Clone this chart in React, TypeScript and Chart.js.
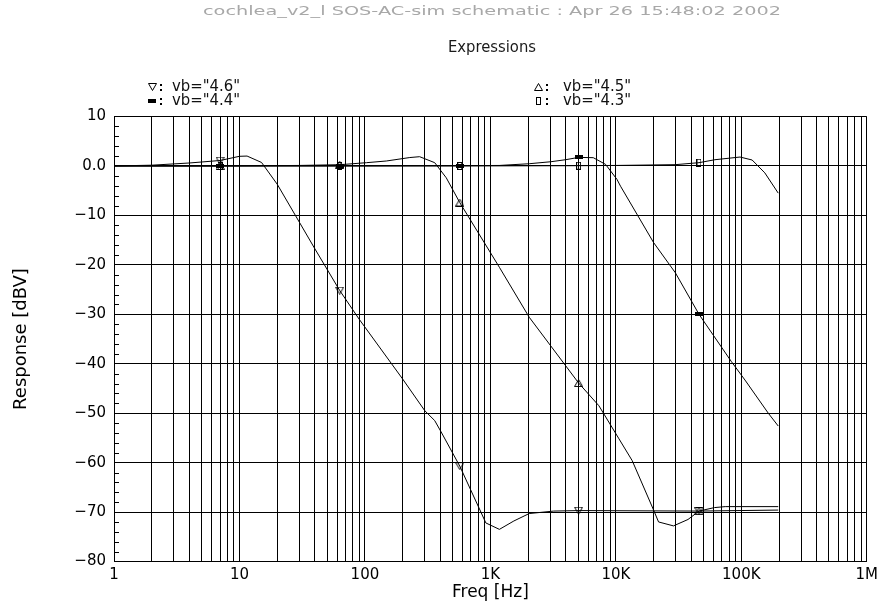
import React, { useEffect, useRef } from 'react';
import { Chart, registerables } from 'chart.js';

Chart.register(...registerables);

const TITLE = 'cochlea_v2_l SOS-AC-sim schematic : Apr 26 15:48:02 2002';
const SUBTITLE = 'Expressions';
const X_TITLE = 'Freq [Hz]';
const Y_TITLE = 'Response [dBV]';

const seriesLabels = ['vb="4.6"', 'vb="4.5"', 'vb="4.4"', 'vb="4.3"'];

// vb = 4.6
const freq46 = [1, 2, 4, 7, 10, 11.5, 15, 20, 40, 63, 90, 200, 300, 360, 405, 570, 840, 920, 1180, 1540, 2040, 3200, 5050, 46000, 197000];
const resp46 = [0.0, 0.15, 0.6, 1.1, 1.95, 2.0, 0.7, -3.7, -16.8, -25.2, -31.0, -43.1, -49.5, -51.5, -53.8, -60.7, -70.0, -72.2, -73.5, -71.8, -70.3, -69.8, -69.7, -69.8, -69.6];

// vb = 4.5
const freq45 = [1, 7, 30, 63, 103, 148, 228, 273, 360, 445, 570, 1180, 2040, 5050, 7330, 10600, 13500, 20000, 21900, 28800, 37600, 46000, 61000, 74500, 197000];
const resp45 = [0.0, 0.0, 0.1, 0.25, 0.66, 1.0, 1.7, 1.87, 0.66, -2.4, -7.4, -20.5, -30.6, -43.9, -48.5, -55.2, -59.6, -69.6, -72.0, -72.8, -71.5, -69.8, -69.1, -68.9, -68.9];

// vb = 4.4
const freq44 = [1, 7, 63, 570, 1180, 2040, 3030, 3980, 5050, 6610, 8280, 10200, 10900, 20000, 29800, 46000, 83000, 107000, 164000, 197000];
const resp44 = [0.0, 0.0, 0.0, 0.05, 0.1, 0.45, 0.85, 1.26, 1.73, 1.67, 0.32, -2.7, -4.1, -15.5, -21.6, -30.0, -39.5, -43.3, -50.0, -52.6];

// vb = 4.3
const freq43 = [1, 7, 63, 570, 5050, 10000, 29800, 46000, 61700, 97700, 122000, 154000, 197000];
const resp43 = [0.0, 0.0, 0.0, 0.0, 0.05, 0.1, 0.26, 0.66, 1.26, 1.8, 1.2, -1.4, -5.5];

const markerFreqs = [7, 63, 570, 5050, 46000];

const decadeValues = [1, 10, 100, 1000, 10000, 100000, 1000000];
const decadeLabels = ['1', '10', '100', '1K', '10K', '100K', '1M'];
const yTickValues = [10, 0, -10, -20, -30, -40, -50, -60, -70, -80];
const yTickLabels = ['10', '0.0', '\u221210', '\u221220', '\u221230', '\u221240', '\u221250', '\u221260', '\u221270', '\u221280'];

function makeMarker(kind: string): HTMLCanvasElement {
  const c = document.createElement('canvas');
  const ctx = c.getContext('2d')!;
  if (kind === 'down') {
    c.width = 9; c.height = 8;
    ctx.strokeStyle = '#000'; ctx.lineWidth = 1;
    ctx.beginPath(); ctx.moveTo(0.5, 0.5); ctx.lineTo(8.5, 0.5); ctx.lineTo(4.5, 7.5); ctx.closePath(); ctx.stroke();
  } else if (kind === 'up') {
    c.width = 9; c.height = 8;
    ctx.strokeStyle = '#000'; ctx.lineWidth = 1;
    ctx.beginPath(); ctx.moveTo(0.5, 7.5); ctx.lineTo(8.5, 7.5); ctx.lineTo(4.5, 0.5); ctx.closePath(); ctx.stroke();
  } else if (kind === 'bar') {
    c.width = 8; c.height = 4;
    ctx.fillStyle = '#000';
    ctx.fillRect(0, 0, 8, 4);
  } else {
    c.width = 5; c.height = 8;
    ctx.strokeStyle = '#000'; ctx.lineWidth = 1;
    ctx.strokeRect(0.5, 0.5, 4, 7);
  }
  return c;
}

function drawStretched(ctx: CanvasRenderingContext2D, text: string, x: number, y: number, font: string, color: string, width: number, align: string) {
  ctx.save();
  ctx.font = font;
  ctx.fillStyle = color;
  ctx.textBaseline = 'middle';
  ctx.textAlign = 'left';
  const w = ctx.measureText(text).width;
  const s = width / w;
  const left = align === 'center' ? x - width / 2 : x;
  ctx.translate(left, y);
  ctx.scale(s, 1);
  ctx.fillText(text, 0, 0);
  ctx.restore();
}

export default function App() {
  const ref = useRef<HTMLCanvasElement>(null);

  useEffect(() => {
    const canvas = ref.current!;
    const markers = [makeMarker('down'), makeMarker('up'), makeMarker('bar'), makeMarker('box')];
    const freqs = [freq46, freq45, freq44, freq43];
    const resps = [resp46, resp45, resp44, resp43];

    const xGrid: number[] = [];
    decadeValues.forEach((d, i) => {
      if (i === decadeValues.length - 1) { xGrid.push(d); return; }
      for (let m = 1; m <= 9; m++) xGrid.push(m * d);
    });
    const labelOf = new Map<number, string>();
    decadeValues.forEach((d, i) => labelOf.set(d, decadeLabels[i]));
    const yLabelOf = new Map<number, string>();
    yTickValues.forEach((v, i) => yLabelOf.set(v, yTickLabels[i]));

    const datasets = freqs.map((fs, si) => ({
      label: seriesLabels[si],
      data: fs.map((f, i) => ({ x: f, y: resps[si][i] })),
      borderColor: '#000',
      backgroundColor: '#000',
      borderWidth: 1,
      tension: 0,
      fill: false,
      pointStyle: markers[si],
      pointRadius: (c: any) => (c.raw && markerFreqs.includes(c.raw.x) ? 4 : 0),
      pointHoverRadius: 0,
    }));

    const headerPlugin = {
      id: 'header',
      afterDraw(chart: any) {
        const ctx: CanvasRenderingContext2D = chart.ctx;
        drawStretched(ctx, TITLE, 492, 12, '13px "DejaVu Sans"', '#a8a8a8', 578, 'center');
        drawStretched(ctx, SUBTITLE, 492, 48, '16px "DejaVu Sans"', '#1a1a1a', 88, 'center');
        const legendPos = [
          { mx: 152, tx: 172, y: 87 },
          { mx: 538, tx: 563, y: 87 },
          { mx: 152, tx: 172, y: 101 },
          { mx: 538, tx: 563, y: 101 },
        ];
        legendPos.forEach((p, i) => {
          const m = markers[i];
          ctx.drawImage(m, Math.round(p.mx - m.width / 2), Math.round(p.y - m.height / 2));
          ctx.fillStyle = '#000';
          ctx.fillRect(p.mx + 8, p.y - 3, 2, 2);
          ctx.fillRect(p.mx + 8, p.y + 2, 2, 2);
          drawStretched(ctx, seriesLabels[i], p.tx, p.y, '15px "DejaVu Sans"', '#111', 68, 'left');
        });
      },
    };

    const minorTicks = {
      id: 'minorTicks',
      afterDatasetsDraw(chart: any) {
        const ctx: CanvasRenderingContext2D = chart.ctx;
        const ys = chart.scales.y;
        const left = chart.chartArea.left;
        ctx.save();
        ctx.strokeStyle = '#000';
        ctx.lineWidth = 1;
        for (let v = -78; v < 10; v += 2) {
          if (v % 10 === 0) continue;
          const y = Math.round(ys.getPixelForValue(v)) + 0.5;
          ctx.beginPath();
          ctx.moveTo(left, y);
          ctx.lineTo(left + 5, y);
          ctx.stroke();
        }
        ctx.restore();
      },
    };

    const chart = new Chart(canvas, {
      type: 'line',
      data: { datasets: datasets as any },
      options: {
        animation: false,
        responsive: false,
        devicePixelRatio: 1,
        events: [],
        layout: { padding: { top: 116.5, right: 13, bottom: 0, left: 0 } },
        plugins: { legend: { display: false }, tooltip: { enabled: false }, title: { display: false } },
        scales: {
          x: {
            type: 'logarithmic',
            min: 1,
            max: 1000000,
            afterBuildTicks: (scale: any) => { scale.ticks = xGrid.map((v) => ({ value: v })); },
            afterFit: (scale: any) => { scale.height = 39.5; },
            grid: { color: '#000', lineWidth: 1, drawTicks: false },
            border: { display: true, color: '#000', width: 1 },
            ticks: {
              autoSkip: false,
              maxRotation: 0,
              minRotation: 0,
              padding: 5,
              color: '#000',
              font: { family: 'DejaVu Sans', size: 15 },
              callback: (v: any) => labelOf.get(Number(v)) ?? '',
            },
            title: {
              display: true,
              text: X_TITLE,
              color: '#000',
              font: { family: 'DejaVu Sans', size: 17, lineHeight: 1 },
              padding: { top: 0, bottom: 0 },
            },
          },
          y: {
            type: 'linear',
            min: -80,
            max: 10,
            afterFit: (scale: any) => { scale.width = 114; },
            afterBuildTicks: (scale: any) => { scale.ticks = yTickValues.map((v) => ({ value: v })); },
            grid: { color: '#000', lineWidth: 1, drawTicks: false },
            border: { display: true, color: '#000', width: 1 },
            ticks: {
              padding: 8,
              color: '#000',
              font: { family: 'DejaVu Sans', size: 15 },
              callback: (v: any) => yLabelOf.get(Number(v)) ?? '',
            },
            title: {
              display: true,
              text: Y_TITLE,
              color: '#000',
              font: { family: 'DejaVu Sans', size: 18, lineHeight: 1.2 },
              padding: { top: 11, bottom: 0 },
            },
          },
        },
      },
      plugins: [headerPlugin, minorTicks],
    });
    return () => chart.destroy();
  }, []);

  return (
    <div style={{ position: 'fixed', left: 0, top: 0, width: 883, height: 601, background: '#fff' }}>
      <canvas ref={ref} width={883} height={601} style={{ width: 883, height: 601, display: 'block' }} />
    </div>
  );
}
